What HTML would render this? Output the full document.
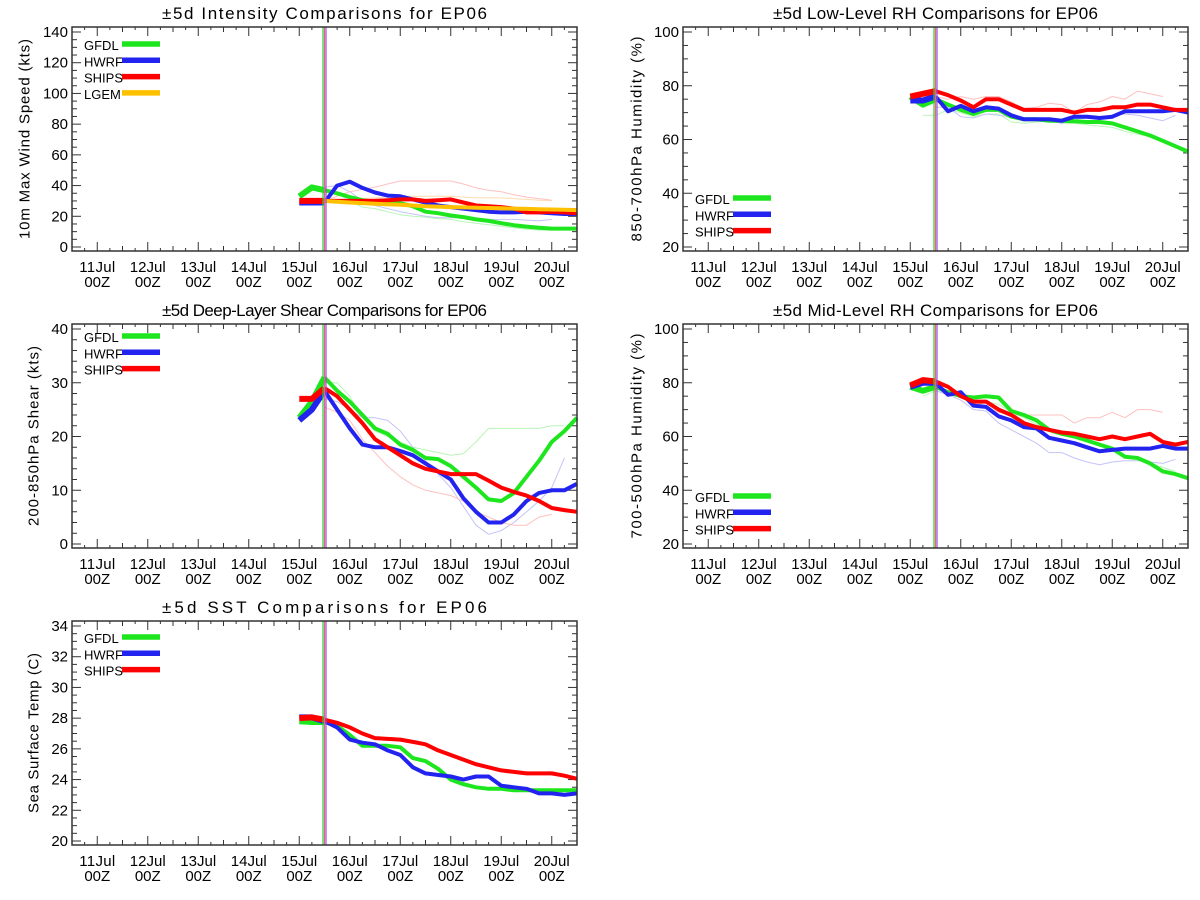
<!DOCTYPE html>
<html><head><meta charset="utf-8"><style>
body{margin:0;background:#fff;}
svg{display:block;}
text{font-family:"Liberation Sans",sans-serif;fill:#000;}
</style></head>
<body>
<svg id="chart" width="1200" height="900" viewBox="0 0 1200 900" xmlns="http://www.w3.org/2000/svg"></svg>
<script>
// shared time axis (days of July), 6-hourly from 15Jul 00Z to 20Jul 12Z
const times = [15,15.25,15.5,15.75,16,16.25,16.5,16.75,17,17.25,17.5,17.75,18,18.25,18.5,18.75,19,19.25,19.5,19.75,20,20.25,20.5];
const dayTicks = [11,12,13,14,15,16,17,18,19,20];
const dayLabels = ["11Jul","12Jul","13Jul","14Jul","15Jul","16Jul","17Jul","18Jul","19Jul","20Jul"];
const initTime = 15.5;
const N = null;

// Panel 1: intensity
const p1Gfdl  = [33,38.8,37,35,32.5,30.5,29.5,29,28.5,26.5,23,22,20.5,19.5,18,17,15.5,14.2,13.3,12.6,12,12,12];
const p1Hwrf  = [29,29,29,40,42.5,38.5,35.5,33.5,33,31,29,27,26,25,24,23,22.5,22.5,23,22.5,22,21.5,21.5];
const p1Ships = [30,30,30,30,30,30,30,30.5,31,31,30,30.5,31,29,27,26.5,26,25,22.5,22.5,23,22.5,22];
const p1Lgem  = [N,N,30,29.5,29,28.6,28.2,27.8,27.5,27,26.6,26.3,26,25.8,25.6,25.4,25.2,25,24.8,24.6,24.4,24.2,24];
const p1FaintShips = [N,N,30,33,36,37.5,39,41,43,43,43,43,43,41,38.5,37,36,34,32.5,31.5,30.5,N,N];
const p1FaintLgem  = [N,N,30,30.5,31,31.5,32,32.5,33,33,33,33,33,32.5,32,32,32,31.5,31,30.5,30,N,N];
const p1FaintHwrf  = [N,N,39,40,36,30,27,25,23,21.5,20,19,19,19,18.5,18,18,18,17.5,17,18,N,N];
const p1FaintGfdl  = [N,N,38,35,30,26,25,23,21,20,19.5,18.5,18,16.5,15.5,14.5,13.5,12.5,11.5,11,11,N,N];

// Panel 2: low-level RH
const p2Gfdl  = [76,73,75,73,71,69.5,71,71,68.5,67.5,67.5,67,67,66.8,66.5,66.5,66,64.5,63,61.5,59.5,57.5,55.5];
const p2Hwrf  = [74.5,74.5,76,70.5,72.5,70.5,72,71.5,69,67.5,67.5,67.5,67,68.5,68.5,68,68.5,70.5,70.5,70.5,70.5,71,70];
const p2Ships = [76,77,78,76.5,74.5,72,75,75,73,71,71,71,71,70,71,71,72,72,73,73,72,71,71];
const p2FaintShips = [N,N,76,75,76,75,76,76,74,71.5,72,73.5,73,70,73,74,76,75,78,77,76,N,N];
const p2FaintHwrf  = [N,N,72,72,68.5,68,69.5,69,68.5,67,67,67,66,67.5,68,68,69,69.5,69,68,67,69,N];
const p2FaintGfdl  = [N,69,69,71,70,68.5,69.5,69.5,66.5,66,66.5,67,66,66,65.5,65,64.5,63,62,61,60,N,N];

// Panel 3: deep-layer shear
const p3Gfdl  = [23.5,26.5,31,28.5,26.5,24,21.5,20.5,18.5,17.5,16,15.8,14.5,12.5,10.5,8.3,8,9.5,12.5,15.5,19,21,23.5];
const p3Hwrf  = [23,25,28.5,25,21.5,18.5,18,18,17.3,16.5,15,13.5,12,8.5,6,4,4,5.5,8,9.5,10,10,11.2];
const p3Ships = [27,27,29,27.5,25,22.5,19.5,18,16.5,15,14,13.5,13,13,13,11.8,10.5,9.7,9,8,6.7,6.3,6];
const p3FaintGfdl  = [N,N,30,30,27.5,23.5,21,20,19,18,17.5,17,16.5,16.8,19,21.5,21.5,21.5,21.5,21.5,22,22,N];
const p3FaintHwrf  = [N,N,27,26.5,25,23.5,23.5,23,21,18,15.5,13,10.5,7,3.5,1.8,2.5,4,6,8,10.5,16,N];
const p3FaintShips = [N,N,25.5,24.5,23,19.5,17,14.5,12.5,11,10,9.5,9,8,6,5,4,3.5,3.5,5,5.5,N,N];

// Panel 4: mid-level RH
const p4Gfdl  = [78.5,77,78.5,76.5,75,74.5,75,74.5,69.5,68,66,62.5,61,60,58.5,57,55.5,52.5,52,50,47,46,44.5];
const p4Hwrf  = [78.5,80,80,75.5,76.5,71.5,71,67.5,66,63.5,63,59.5,58.5,57.5,56,54.5,55,55.5,55.5,55.5,56.5,55.5,55.5];
const p4Ships = [79,81,80.5,78.5,75,73,73,70,68,65,63.5,62.5,61.5,61,60,59,60,59,60,61,58,57,58];
const p4FaintShips = [N,N,79,76.5,75,73.5,71,69,68,68,68,68,68,65,67,67,69,67,70,70,69,N,N];
const p4FaintHwrf  = [N,N,77,75.5,73.5,70,69.5,65,62.5,60,57.5,54,54,52,50.5,49.5,50.5,51,51,50.5,50,51.5,N];
const p4FaintGfdl  = [N,75,77,76,75,74,73,72,69,67,64.5,62.5,61,60,59,57,55,53,52,50,48.5,47,N];

// Panel 5: SST
const p5Gfdl  = [27.8,27.75,27.75,27.5,26.9,26.2,26.2,26.2,26.1,25.4,25.2,24.7,24,23.7,23.5,23.4,23.4,23.3,23.3,23.3,23.3,23.3,23.3];
const p5Hwrf  = [28.05,28.05,27.8,27.4,26.6,26.4,26.3,25.9,25.6,24.8,24.4,24.3,24.2,24,24.2,24.2,23.6,23.5,23.4,23.1,23.1,23,23.1];
const p5Ships = [28,28.05,27.9,27.7,27.4,27,26.7,26.65,26.6,26.45,26.3,25.9,25.6,25.3,25,24.8,24.6,24.5,24.4,24.4,24.4,24.25,24.05];

const C = {gfdl:"#1ee61e", hwrf:"#2323f0", ships:"#ff0000", lgem:"#ffc000",
  fgfdl:"#b8f5b8", fhwrf:"#c4c4f8", fships:"#ffc0c0", flgem:"#ffdcb0"};

const svg = document.getElementById('chart');
const NS = "http://www.w3.org/2000/svg";
function mk(tag, attrs, parent){
  const e = document.createElementNS(NS, tag);
  for (const k in attrs) e.setAttribute(k, attrs[k]);
  (parent||svg).appendChild(e); return e;
}

function panel(cfg){
  const g = mk('g', {});
  
  
  const L = cfg.left, W = 505, T = cfg.top, B = cfg.top + 224;
  const xs = d => L + (d - 10.5) * W / 10;
  const yt = T + 5, yb = B - 4;
  const ys = v => yt + (cfg.ymax - v) / (cfg.ymax - cfg.ymin) * (yb - yt);

  const t = mk('text', {x: L + W/2, y: T - 8, 'text-anchor':'middle', 'font-size':17, textLength: 325, lengthAdjust:'spacing'}, g);
  t.textContent = cfg.title;
  
  

  const ym = (T + B)/2;
  const yl = mk('text', {x: cfg.ytx, y: ym, 'text-anchor':'middle', 'font-size':15, transform:`rotate(-90 ${cfg.ytx} ${ym})`, textLength: cfg.ytlen, lengthAdjust:'spacing', dy:'0.35em'}, g);
  yl.textContent = cfg.ytitle;
  
  

  for (let v = cfg.ymin; v <= cfg.ymax + 1e-6; v += cfg.minor){
    const y = ys(v);
    const isMajor = Math.abs(((v - cfg.ymin) / cfg.major) - Math.round((v - cfg.ymin) / cfg.major)) < 1e-6;
    const len = isMajor ? 9 : 5;
    mk('line', {x1:L, x2:L+len, y1:y, y2:y, stroke:'#333', 'stroke-width':1}, g);
    mk('line', {x1:L+W, x2:L+W-len, y1:y, y2:y, stroke:'#333', 'stroke-width':1}, g);
    if (isMajor){
      const tl = mk('text', {x: L-4, y: y+5, 'text-anchor':'end', 'font-size':15}, g);
      tl.textContent = String(Math.round(v*10)/10);
      
      
    }
  }
  for (let d = 10.5; d <= 20.5 + 1e-6; d += 0.25){
    const x = xs(d);
    const isMajor = Math.abs(d - Math.round(d)) < 1e-6;
    const len = isMajor ? 9 : (Math.abs(d*2 - Math.round(d*2)) < 1e-6 ? 5 : 3);
    mk('line', {x1:x, x2:x, y1:B, y2:B-len, stroke:'#333', 'stroke-width':1}, g);
    mk('line', {x1:x, x2:x, y1:T, y2:T+len, stroke:'#333', 'stroke-width':1}, g);
  }
  dayTicks.forEach((d, i) => {
    const x = xs(d);
    const a = mk('text', {x:x, y:B+21, 'text-anchor':'middle', 'font-size':15, textLength:36, lengthAdjust:'spacing'}, g);
    a.textContent = dayLabels[i];
    
    
    const b = mk('text', {x:x, y:B+36, 'text-anchor':'middle', 'font-size':15}, g);
    b.textContent = "00Z";
    
    
  });

  const pathFor = (arr, i0, i1) => {
    let d = '';
    for (let i = i0; i <= i1 && i < arr.length; i++){
      if (arr[i] === null) continue;
      d += (d ? 'L' : 'M') + xs(times[i]).toFixed(1) + ',' + ys(arr[i]).toFixed(1);
    }
    return d;
  };
  (cfg.faint||[]).forEach(s => {
    const p = mk('path', {d: pathFor(s.data, 0, 22), fill:'none', stroke:s.color, 'stroke-width':1, 'stroke-linejoin':'round'}, g);
    
    
  });
  cfg.series.forEach(s => {
    const a = mk('path', {d: pathFor(s.data, 0, 2), fill:'none', stroke:s.color, 'stroke-width':6, 'stroke-linejoin':'round'}, g);
    
    
    const p = mk('path', {d: pathFor(s.data, 2, 22), fill:'none', stroke:s.color, 'stroke-width':4, 'stroke-linejoin':'round'}, g);
    
    
  });

  const xi = xs(initTime);
  [['#2ad42a',-1.5],['#f06080',0],['#9a4ce0',1.5]].forEach(([c,o]) => {
    const v = mk('line', {x1:xi+o, x2:xi+o, y1:T, y2:B, stroke:c, 'stroke-width':1.2}, g);
    
    
  });

  const fr = mk('rect', {x:L, y:T, width:W, height:B-T, fill:'none', stroke:'#333', 'stroke-width':1.5}, g);
  
  

  cfg.series.forEach((s, i) => {
    const ly = cfg.legY + i * 16.3;
    const lt = mk('text', {x: L + 12, y: ly + 5, 'font-size':13}, g);
    lt.textContent = s.label;
    
    
    const ll = mk('line', {x1: L+50, x2: L+88, y1: ly - 1, y2: ly - 1, stroke: s.color, 'stroke-width':5.5}, g);
    
    
  });
}

panel({name:'intensity-panel', left:72, top:27, title:'±5d Intensity Comparisons for EP06',
  ytitle:'10m Max Wind Speed (kts)', ytx:24, ytlen:200, ymin:0, ymax:140, major:20, minor:5, legY:45,
  faint:[{name:'gfdl-prev',data:p1FaintGfdl,color:C.fgfdl},{name:'hwrf-prev',data:p1FaintHwrf,color:C.fhwrf},
         {name:'lgem-prev',data:p1FaintLgem,color:C.flgem},{name:'ships-prev',data:p1FaintShips,color:C.fships}],
  series:[{name:'gfdl',label:'GFDL',data:p1Gfdl,color:C.gfdl},{name:'hwrf',label:'HWRF',data:p1Hwrf,color:C.hwrf},
          {name:'ships',label:'SHIPS',data:p1Ships,color:C.ships},{name:'lgem',label:'LGEM',data:p1Lgem,color:C.lgem}]});

panel({name:'low-level-rh-panel', left:683, top:27, title:'±5d Low-Level RH Comparisons for EP06',
  ytitle:'850-700hPa Humidity (%)', ytx:636, ytlen:205, ymin:20, ymax:100, major:20, minor:5, legY:199,
  faint:[{name:'gfdl-prev',data:p2FaintGfdl,color:C.fgfdl},{name:'hwrf-prev',data:p2FaintHwrf,color:C.fhwrf},
         {name:'ships-prev',data:p2FaintShips,color:C.fships}],
  series:[{name:'gfdl',label:'GFDL',data:p2Gfdl,color:C.gfdl},{name:'hwrf',label:'HWRF',data:p2Hwrf,color:C.hwrf},
          {name:'ships',label:'SHIPS',data:p2Ships,color:C.ships}]});

panel({name:'shear-panel', left:72, top:324, title:'±5d Deep-Layer Shear Comparisons for EP06',
  ytitle:'200-850hPa Shear (kts)', ytx:33, ytlen:180, ymin:0, ymax:40, major:10, minor:2, legY:337,
  faint:[{name:'gfdl-prev',data:p3FaintGfdl,color:C.fgfdl},{name:'hwrf-prev',data:p3FaintHwrf,color:C.fhwrf},
         {name:'ships-prev',data:p3FaintShips,color:C.fships}],
  series:[{name:'gfdl',label:'GFDL',data:p3Gfdl,color:C.gfdl},{name:'hwrf',label:'HWRF',data:p3Hwrf,color:C.hwrf},
          {name:'ships',label:'SHIPS',data:p3Ships,color:C.ships}]});

panel({name:'mid-level-rh-panel', left:683, top:324, title:'±5d Mid-Level RH Comparisons for EP06',
  ytitle:'700-500hPa Humidity (%)', ytx:636, ytlen:205, ymin:20, ymax:100, major:20, minor:5, legY:497,
  faint:[{name:'gfdl-prev',data:p4FaintGfdl,color:C.fgfdl},{name:'hwrf-prev',data:p4FaintHwrf,color:C.fhwrf},
         {name:'ships-prev',data:p4FaintShips,color:C.fships}],
  series:[{name:'gfdl',label:'GFDL',data:p4Gfdl,color:C.gfdl},{name:'hwrf',label:'HWRF',data:p4Hwrf,color:C.hwrf},
          {name:'ships',label:'SHIPS',data:p4Ships,color:C.ships}]});

panel({name:'sst-panel', left:72, top:621, title:'±5d SST Comparisons for EP06',
  ytitle:'Sea Surface Temp (C)', ytx:33, ytlen:160, ymin:20, ymax:34, major:2, minor:0.5, legY:638,
  faint:[],
  series:[{name:'gfdl',label:'GFDL',data:p5Gfdl,color:C.gfdl},{name:'hwrf',label:'HWRF',data:p5Hwrf,color:C.hwrf},
          {name:'ships',label:'SHIPS',data:p5Ships,color:C.ships}]});
</script>
</body></html>
